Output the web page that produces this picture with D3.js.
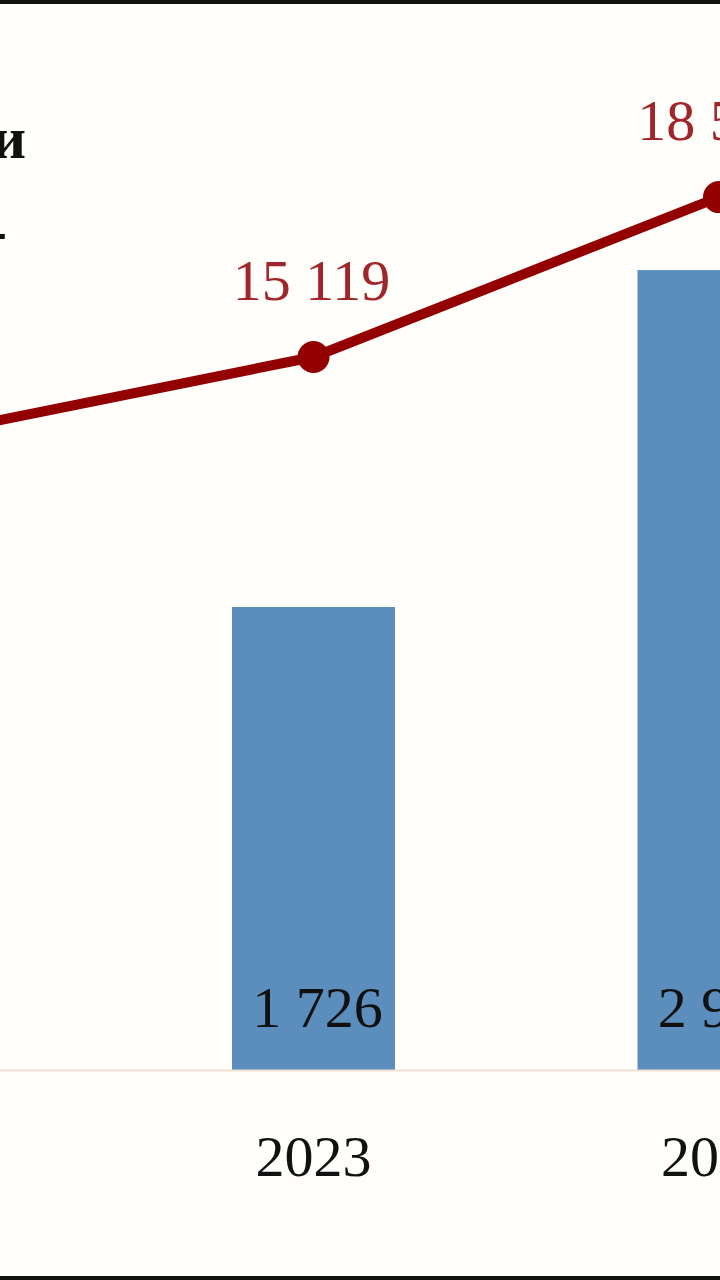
<!DOCTYPE html>
<html lang="ru">
<head>
<meta charset="UTF-8" />
<title>Chart</title>
<script src="https://cdn.jsdelivr.net/npm/d3@7/dist/d3.min.js"></script>
<style>
  html, body { margin: 0; padding: 0; background: #fffefb; overflow: hidden; }
</style>
</head>
<body>
<div id="chart"></div>
<script>
// data (2022 lies off the left edge of the crop)
const years = ["2022", "2023", "2024"]
const barValues = [1450, 1726, 2982]
const barLabels = ["1 450", "1 726", "2 982"]
const lineValues = [13390, 15119, 18510]
const lineLabels = ["13 390", "15 119", "18 510"]
const legendLines = ["Инвестиции", "млн руб. -"]

const width = 720
const height = 1280
const baseY = 1070

const svg = d3.select("#chart").append("svg")
    .attr("width", width)
    .attr("height", height)
    .style("display", "block")

svg.append("rect")
    .attr("width", width).attr("height", height)
    .attr("fill", "#fffefb")

const x = d3.scalePoint()
    .domain(years)
    .range([-92, 719])

const barW = 163

const yBar = d3.scaleLinear()
    .domain([0, 1726])
    .range([baseY, 607])

const yLine = d3.scaleLinear()
    .domain([0, 15119])
    .range([baseY, 357])

const font = "'Liberation Serif', 'Times New Roman', serif"

// bars
svg.append("g")
    .selectAll("rect")
    .data(years)
    .join("rect")
    .attr("x", d => x(d) - barW / 2)
    .attr("y", (d, i) => yBar(barValues[i]))
    .attr("width", barW)
    .attr("height", (d, i) => baseY - yBar(barValues[i]))
    .attr("fill", "#5b8ebd")

// baseline
svg.append("line")
    .attr("x1", 0).attr("x2", width)
    .attr("y1", baseY + 0.5).attr("y2", baseY + 0.5)
    .attr("stroke", "#f1dfd2")
    .attr("stroke-width", 2)

// bar labels
svg.append("g")
    .attr("font-family", font)
    .attr("font-size", 58)
    .attr("fill", "#111")
    .attr("text-anchor", "middle")
    .selectAll("text")
    .data(years)
    .join("text")
    .attr("x", d => x(d) + 4)
    .attr("y", 1027)
    .text((d, i) => barLabels[i])

// year axis labels
svg.append("g")
    .attr("font-family", font)
    .attr("font-size", 58)
    .attr("fill", "#111")
    .attr("text-anchor", "middle")
    .selectAll("text")
    .data(years)
    .join("text")
    .attr("x", d => x(d))
    .attr("y", 1176)
    .text(d => d)

// line
const line = d3.line()
    .x(d => x(d))
    .y((d, i) => yLine(lineValues[i]))

svg.append("path")
    .datum(years)
    .attr("d", line)
    .attr("fill", "none")
    .attr("stroke", "#930000")
    .attr("stroke-width", 10)
    .attr("stroke-linejoin", "round")

svg.append("g")
    .selectAll("circle")
    .data(years)
    .join("circle")
    .attr("cx", d => x(d))
    .attr("cy", (d, i) => yLine(lineValues[i]))
    .attr("r", 16)
    .attr("fill", "#930000")

svg.append("g")
    .attr("font-family", font)
    .attr("font-size", 58)
    .attr("fill", "#a0262a")
    .attr("text-anchor", "middle")
    .selectAll("text")
    .data(years)
    .join("text")
    .attr("x", d => x(d) - 2)
    .attr("y", (d, i) => yLine(lineValues[i]) - 57)
    .text((d, i) => lineLabels[i])

// legend text, cut by the left edge
svg.append("g")
    .attr("font-family", font)
    .attr("font-size", 60)
    .attr("font-weight", "bold")
    .attr("fill", "#111")
    .attr("text-anchor", "end")
    .selectAll("text")
    .data(legendLines)
    .join("text")
    .attr("x", (d, i) => i === 0 ? 26 : 7)
    .attr("y", (d, i) => i === 0 ? 158 : 250)
    .text(d => d)

// frame lines top and bottom
svg.append("rect").attr("x", 0).attr("y", 0).attr("width", width).attr("height", 4).attr("fill", "#111")
svg.append("rect").attr("x", 0).attr("y", height - 4).attr("width", width).attr("height", 4).attr("fill", "#111")
</script>
</body>
</html>
